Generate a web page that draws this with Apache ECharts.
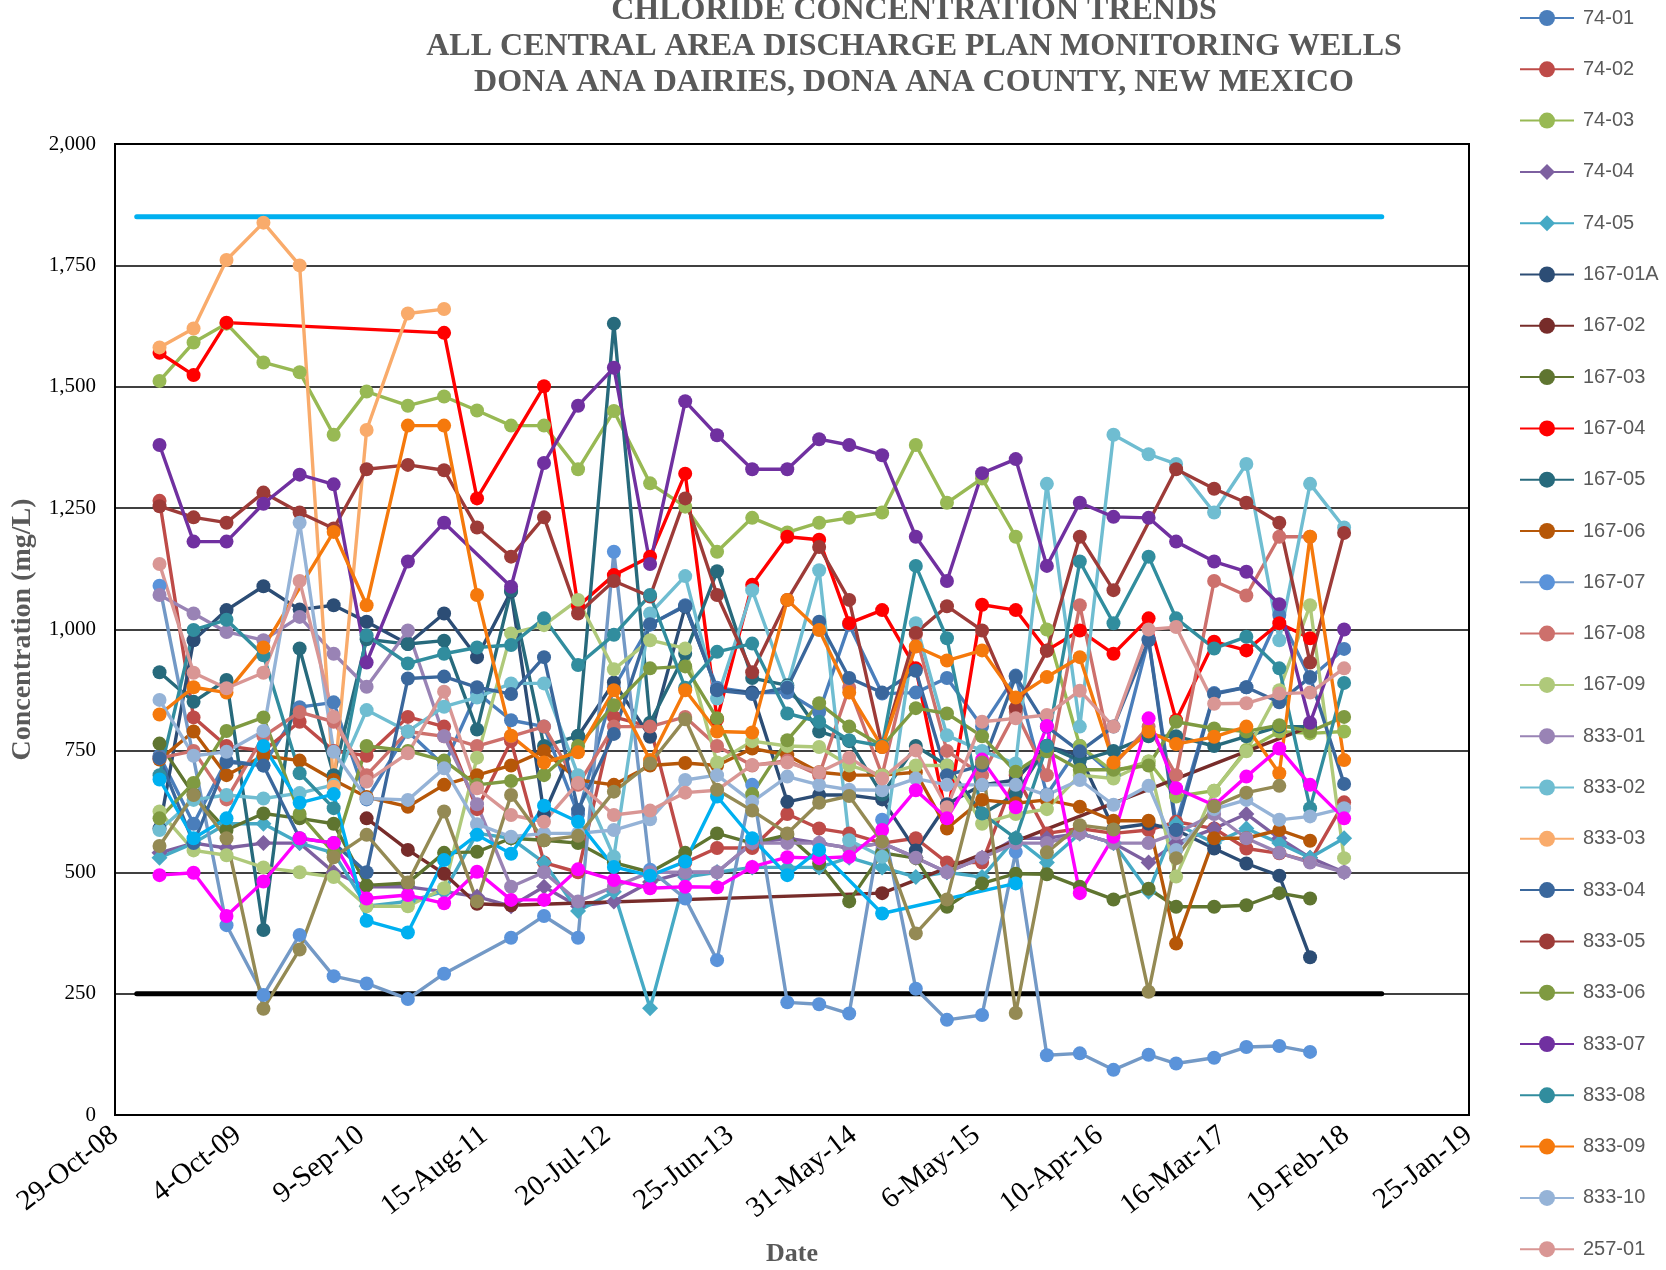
<!DOCTYPE html>
<html>
<head>
<meta charset="utf-8">
<title>Chloride Concentration Trends</title>
<script src="https://cdn.jsdelivr.net/npm/echarts@6/dist/echarts.min.js"></script>
<style>
  html, body { margin: 0; padding: 0; background: #ffffff; }
  #chart { width: 1666px; height: 1270px; }
</style>
</head>
<body>
<div id="chart"></div>
<script>
// ---- Sampling dates (quarterly monitoring events) ----
const sampleDates = [
  '2009-03-01', '2009-06-03', '2009-09-02', '2009-12-13', '2010-03-23', '2010-06-25',
  '2010-09-24', '2011-01-16', '2011-04-26', '2011-07-26', '2011-10-28', '2012-01-27',
  '2012-04-30', '2012-08-07', '2012-11-15', '2013-02-20', '2013-05-19', '2013-08-24',
  '2013-11-29', '2014-02-25', '2014-05-19', '2014-08-18', '2014-11-19', '2015-02-13',
  '2015-05-21', '2015-08-22', '2015-11-16', '2016-02-15', '2016-05-18', '2016-08-23',
  '2016-11-07', '2017-02-20', '2017-05-20', '2017-08-19', '2017-11-12', '2018-02-14'
];

// Reference limit lines (start / end dates and level, mg/L)
const upperLimitDates = ['2008-12-28', '2018-05-29'];
const upperLimit = 1850;
const lowerLimitDates = ['2008-12-28', '2018-05-29'];
const lowerLimit = 250;

// ---- Chloride results by well (mg/L), one value per sampling date; null = not sampled ----
const w74_01 = [740, 600, 730, 720, 840, 850, 650, 790, 720, 870, 813, 800, 620, 880, 1010, 1050, 880, 870, 870, 830, 1010, 868, 870, 900, 800, 905, 660, 760, 700, 980, 600, 869, 881, 1030, 900, 960];
const w74_02 = [1265, 819, 760, 750, 810, 750, 740, 820, 800, 630, 770, 520, 500, 820, 800, 520, 550, 550, 620, 590, 580, 560, 570, 520, 520, 700, 580, 590, 580, 587, 604, 590, 549, 539, 522, 644];
const w74_03 = [1512, 1591, 1630, 1550, 1530, 1401, 1490, 1461, 1480, 1451, 1420, 1420, 1330, 1450, 1301, 1253, 1160, 1230, 1200, 1220, 1230, 1241, 1380, 1261, 1311, 1191, 1000, 760, 707, 728, 656, 668, 752, 790, 786, 790];
const w74_04 = [540, 560, 550, 560, 560, 500, 470, 470, 460, 450, 430, 470, 430, 440, 480, 500, 500, 560, 570, 560, 550, 560, 530, 500, 530, 570, 570, 580, 560, 520, 560, 590, 620, 570, 530, 500];
const w74_05 = [530, 560, 600, 600, 560, 540, 430, 440, 460, 580, 570, 520, 420, 460, 220, 490, 500, 510, 510, 510, 530, 510, 490, 500, 490, 570, 520, 580, 560, 460, 600, 560, 590, 560, 530, 570];
const w167_01A = [590, 978, 1040, 1089, 1041, 1050, 1016, 970, 1033, 943, 1078, 620, 780, 891, 779, 1047, 875, 870, 645, 659, 659, 650, 545, 640, 680, 690, 760, 740, 590, 600, 587, 549, 518, 493, 325, null];
const w167_02 = [null, null, null, null, null, null, 611, 546, 497, 435, 432, null, null, null, null, null, null, null, null, null, null, 457, null, null, null, null, null, null, null, null, null, null, null, null, 800, null];
const w167_03 = [765, 660, 587, 621, 611, 600, 473, 478, 540, 542, 570, 566, 560, 520, 500, 540, 580, 560, 577, 518, 440, 540, 529, 429, 477, 497, 496, 470, 444, 466, 429, 429, 432, 457, 446, null];
const w167_04 = [1570, 1524, 1632, null, null, null, null, null, 1611, 1270, null, 1501, 1048, 1112, 1150, 1321, 815, 1092, 1191, 1185, 1013, 1040, 920, 610, 1051, 1040, 957, 998, 950, 1023, 813, 975, 957, 1013, 982, null];
const w167_05 = [912, 851, 896, 381, 961, 700, 980, 970, 977, 794, 1080, 760, 781, 1630, 808, 950, 1120, 900, 885, 790, 770, 660, 760, 720, 620, 660, 760, 730, 750, 780, 780, 760, 780, 800, 800, null];
const w167_06 = [732, 790, 700, 740, 730, 690, 655, 635, 680, 700, 720, 750, 690, 680, 720, 725, 720, 755, 741, 706, 700, 700, 706, 590, 649, 642, 649, 635, 606, 606, 353, 570, 570, 587, 565, null];
const w167_07 = [1090, null, 391, 247, 371, 286, 271, 239, 291, null, 365, 410, 365, 1160, 505, 446, 319, 680, 232, 228, 209, 608, 260, 196, 206, 542, 123, 127, 93, 124, 106, 118, 140, 142, 130, null];
const w167_08 = [735, 750, 650, 780, 830, 810, 700, 790, 780, 760, 780, 800, 680, 800, 800, 820, 760, 720, 730, 700, 880, 700, 990, 750, 700, 830, 700, 1050, 720, 800, 700, 1100, 1070, 1191, 1191, null];
const w167_09 = [625, 545, 535, 510, 500, 490, 430, 430, 467, 736, 992, 1009, 1061, 918, 978, 961, 726, 770, 760, 758, 720, 700, 720, 720, 600, 620, 630, 700, 693, 728, 491, 668, 749, 875, 1050, 529];
const w833_01 = [1071, 1033, 995, 978, 1026, 950, 882, 998, 780, 640, 470, 500, 440, 470, 500, 500, 500, 560, 560, 560, 550, 560, 530, 500, 530, 560, 560, 580, 560, 560, 580, 620, 570, 540, 520, 500];
const w833_02 = [587, 649, 659, 652, 663, 680, 834, 790, 841, 860, 889, 889, 700, 532, 1033, 1110, 858, 1081, 882, 1122, 566, 532, 1013, 782, 750, 724, 1300, 800, 1401, 1361, 1341, 1241, 1341, 978, 1300, 1210];
const w833_03 = [1581, 1620, 1761, 1838, 1750, 676, 1411, 1651, 1660, null, null, null, null, null, null, null, null, null, null, null, null, null, null, null, null, null, null, null, null, null, null, null, null, null, null, null];
const w833_04 = [735, 560, 727, 720, 570, 560, 500, 899, 903, 881, 867, 943, 628, 785, 1011, 1048, 875, 867, 880, 1016, 900, 870, 915, 700, 720, 903, 800, 749, 800, 978, 587, 867, 881, 850, 902, 682];
const w833_05 = [1254, 1231, 1220, 1282, 1241, 1208, 1330, 1339, 1328, 1210, 1150, 1231, 1033, 1100, 1068, 1270, 1071, 912, 1061, 1170, 1061, 758, 993, 1048, 998, 838, 956, 1191, 1081, null, 1330, 1290, 1261, 1220, 932, 1199];
const w833_06 = [611, 684, 791, 819, 620, 540, 760, 750, 730, 680, 688, 700, 760, 844, 920, 924, 817, 661, 772, 848, 800, 760, 838, 827, 780, 707, 749, 711, 711, 720, 810, 796, 790, 803, 790, 820];
const w833_07 = [1380, 1181, 1181, 1259, 1319, 1299, 932, 1140, 1220, null, 1088, 1343, 1461, 1539, 1135, 1470, 1400, 1330, 1330, 1392, 1380, 1359, 1191, 1100, 1322, 1351, 1131, 1261, 1232, 1230, 1181, 1140, 1119, 1052, 808, 1000];
const w833_08 = [700, 999, 1020, 947, 704, 632, 988, 930, 950, 963, 968, 1023, 927, 989, 1071, 880, 954, 971, 827, 810, 772, 760, 1131, 982, 621, 570, 760, 1140, 1013, 1150, 1023, 961, 985, 920, 632, 890];
const w833_09 = [825, 881, 870, 963, null, 1201, 1050, 1420, 1420, 1071, 781, 726, 747, 875, 731, 875, 790, 788, 1061, 999, 870, 758, 965, 936, 957, 860, 902, 943, 726, 790, 764, 779, 800, 704, 1191, 731];
const w833_10 = [855, 740, 748, 791, 1220, 748, 652, 649, 714, 599, 573, 580, 580, 587, 609, 690, 700, 645, 697, 680, 670, 669, 693, 680, 680, 680, 659, 690, 639, 678, 546, 630, 649, 608, 615, 632];
const w257_01 = [1135, 911, 879, 911, 1100, 820, 687, 745, 872, 673, 618, 604, 684, 618, 627, 664, 669, 721, 726, 706, 736, 693, 751, 634, 810, 817, 824, 874, 800, 1000, 1005, 847, 848, 868, 870, 920];
// Additional monitoring wells plotted without a legend entry
const wExtraA = [494, 499, 410, 481, 570, 560, 446, 453, 436, 501, 443, 443, 506, 484, 467, 470, 469, 511, 531, 529, 532, 587, 669, 611, 732, 634, 801, 457, 573, 817, 673, 638, 697, 755, 680, 611];
const wExtraB = [691, 570, 611, 760, 643, 661, 400, 376, 525, 577, 538, 637, 604, 511, 493, 522, 656, 570, 494, 546, null, 415, null, null, null, 477, null, null, null, null, null, null, null, null, null, null];
const wExtraC = [554, 659, 570, 219, 341, 531, 577, 479, 625, 440, 659, 566, 575, 666, 724, 815, 670, 627, 580, 643, 657, 563, 374, 444, 726, 210, 541, 597, 588, 254, 529, 636, 664, 678, null, null];

// Axis tick settings
const yTicks = { min: 0, max: 2000, step: 250 };
const xTicks = { first: '2008-10-29', last: '2019-01-25', stepDays: 340 };

// ---- Date helpers: x is measured in days from the first axis tick ----
const MONTHS = ['Jan', 'Feb', 'Mar', 'Apr', 'May', 'Jun', 'Jul', 'Aug', 'Sep', 'Oct', 'Nov', 'Dec'];
const DAY_MS = 86400000;
function utc(s) { const p = s.split('-').map(Number); return Date.UTC(p[0], p[1] - 1, p[2]); }
const AXIS_ORIGIN = utc(xTicks.first);
function dayOf(s) { return Math.round((utc(s) - AXIS_ORIGIN) / DAY_MS); }
function dateLabel(days) {
  const d = new Date(AXIS_ORIGIN + days * DAY_MS);
  return d.getUTCDate() + '-' + MONTHS[d.getUTCMonth()] + '-' + String(d.getUTCFullYear() % 100).padStart(2, '0');
}
function pairs(dates, values) {
  const out = [];
  values.forEach(function (v, i) { if (v !== null && v !== undefined) out.push([dayOf(dates[i]), v]); });
  return out;
}

// ---- Series styling ----
const wells = [
  { name: '74-01', values: w74_01, color: '#4A7EBB' },
  { name: '74-02', values: w74_02, color: '#BE4B48' },
  { name: '74-03', values: w74_03, color: '#98B954' },
  { name: '74-04', values: w74_04, color: '#7D60A0', symbol: 'diamond' },
  { name: '74-05', values: w74_05, color: '#46AAC5', symbol: 'diamond' },
  { name: '167-01A', values: w167_01A, color: '#2C4D75' },
  { name: '167-02', values: w167_02, color: '#772C2A' },
  { name: '167-03', values: w167_03, color: '#5F7530' },
  { name: '167-04', values: w167_04, color: '#FF0000' },
  { name: '167-05', values: w167_05, color: '#276A7C' },
  { name: '167-06', values: w167_06, color: '#B65708' },
  { name: '167-07', values: w167_07, color: '#7399C6', marker: '#5A93DA' },
  { name: '167-08', values: w167_08, color: '#CD706C' },
  { name: '167-09', values: w167_09, color: '#AFC97A' },
  { name: '833-01', values: w833_01, color: '#9983B5' },
  { name: '833-02', values: w833_02, color: '#6FBDD1' },
  { name: '833-03', values: w833_03, color: '#F9AB6B' },
  { name: '833-04', values: w833_04, color: '#3A679C' },
  { name: '833-05', values: w833_05, color: '#9D3B38' },
  { name: '833-06', values: w833_06, color: '#7F9A41' },
  { name: '833-07', values: w833_07, color: '#7030A0' },
  { name: '833-08', values: w833_08, color: '#318D9E' },
  { name: '833-09', values: w833_09, color: '#F5790C' },
  { name: '833-10', values: w833_10, color: '#95B3D7' },
  { name: '257-01', values: w257_01, color: '#D99694' }
];
const extraWells = [
  { name: 'Additional well A', values: wExtraA, color: '#FF00FF' },
  { name: 'Additional well B', values: wExtraB, color: '#00B0F0' },
  { name: 'Additional well C', values: wExtraC, color: '#948A54' }
];

function wellSeries(w) {
  const isDiamond = w.symbol === 'diamond';
  return {
    name: w.name,
    type: 'line',
    data: pairs(sampleDates, w.values),
    symbol: w.symbol || 'circle',
    symbolSize: isDiamond ? 16 : 14,
    showSymbol: true,
    lineStyle: { width: 3.4, color: w.color },
    itemStyle: { color: w.marker || w.color, borderWidth: 0 },
    emphasis: { disabled: true },
    animation: false
  };
}
function limitSeries(name, dates, level, color) {
  return {
    name: name,
    type: 'line',
    data: dates.map(function (d) { return [dayOf(d), level]; }),
    symbol: 'none',
    lineStyle: { width: 5, color: color, cap: 'round' },
    itemStyle: { color: color },
    emphasis: { disabled: true },
    animation: false
  };
}

const series = [
  limitSeries('Upper limit', upperLimitDates, upperLimit, '#00B0F0'),
  limitSeries('Lower limit', lowerLimitDates, lowerLimit, '#000000')
].concat(wells.map(wellSeries)).concat(extraWells.map(wellSeries));

const SERIF = '"Liberation Serif", "Times New Roman", serif';
const SANS = '"Liberation Sans", Arial, sans-serif';
const GRID = { left: 115, top: 144, width: 1354, height: 971 };

// Legend laid out as one tall column on the right, split in two blocks
const LEGEND_STEP = 51.3;
const LEGEND_FIRST_CENTER = 18;
const LEGEND_SPLIT = 13;
const LEGEND_ROW = 20;
const LEGEND_ICON_H = 20;
function legendBlock(names, firstIndex) {
  return {
    orient: 'vertical',
    left: 1519,
    top: LEGEND_FIRST_CENTER + firstIndex * LEGEND_STEP - LEGEND_ICON_H / 2,
    padding: 0,
    itemWidth: 54,
    itemHeight: LEGEND_ICON_H,
    itemGap: LEGEND_STEP - LEGEND_ROW,
    selectedMode: false,
    data: names,
    textStyle: { fontFamily: SANS, fontSize: 20, color: '#595959', lineHeight: LEGEND_ROW, padding: [0, 0, 0, 4] }
  };
}
const legendNames = wells.map(function (w) { return w.name; });

const titleLines = [
  'CHLORIDE CONCENTRATION TRENDS',
  'ALL CENTRAL AREA DISCHARGE PLAN MONITORING WELLS',
  'DONA ANA DAIRIES, DONA ANA COUNTY, NEW MEXICO'
];
const xAxisTitle = 'Date';
const yAxisTitle = 'Concentration (mg/L)';

const titleGraphics = titleLines.map(function (t, i) {
  return {
    type: 'text', x: 914, y: 11 + i * 36, silent: true,
    style: { text: t, fill: '#595959', font: 'bold 32px ' + SERIF, textAlign: 'center', textVerticalAlign: 'middle' }
  };
});
// Axis titles, centred on the plot area
const axisTitleGraphics = [
  { type: 'text', x: GRID.left + GRID.width / 2, y: 1254, silent: true,
    style: { text: xAxisTitle, fill: '#595959', font: 'bold 26px ' + SERIF, textAlign: 'center', textVerticalAlign: 'middle' } },
  { type: 'text', x: 23, y: GRID.top + GRID.height / 2, rotation: Math.PI / 2, silent: true,
    style: { text: yAxisTitle, fill: '#595959', font: 'bold 28px ' + SERIF, textAlign: 'center', textVerticalAlign: 'middle' } }
];

const chart = echarts.init(document.getElementById('chart'), null, { renderer: 'canvas' });
chart.setOption({
  backgroundColor: '#ffffff',
  animation: false,
  graphic: titleGraphics.concat(axisTitleGraphics),
  legend: [
    legendBlock(legendNames.slice(0, LEGEND_SPLIT), 0),
    legendBlock(legendNames.slice(LEGEND_SPLIT), LEGEND_SPLIT)
  ],
  grid: Object.assign({
    show: true, borderColor: '#000000', borderWidth: 2, backgroundColor: 'transparent',
    containLabel: false, outerBoundsMode: 'none'
  }, GRID),
  xAxis: {
    type: 'value',
    min: 0,
    max: dayOf(xTicks.last),
    interval: xTicks.stepDays,
    axisLine: { show: true, lineStyle: { color: '#000000', width: 2 } },
    axisTick: { show: false },
    splitLine: { show: false },
    axisLabel: {
      rotate: 38,
      margin: 17,
      fontFamily: SERIF,
      fontSize: 29,
      color: '#000000',
      showMinLabel: true,
      showMaxLabel: true,
      hideOverlap: false,
      formatter: function (v) { return dateLabel(v); }
    }
  },
  yAxis: {
    type: 'value',
    min: yTicks.min,
    max: yTicks.max,
    interval: yTicks.step,
    axisLine: { show: true, lineStyle: { color: '#000000', width: 2 } },
    axisTick: { show: false },
    splitLine: { show: true, lineStyle: { color: '#000000', width: 1.5 } },
    axisLabel: {
      margin: 19,
      fontFamily: SERIF,
      fontSize: 21,
      color: '#000000',
      formatter: function (v) { return v.toLocaleString('en-US'); }
    }
  },
  series: series
});
</script>
</body>
</html>
